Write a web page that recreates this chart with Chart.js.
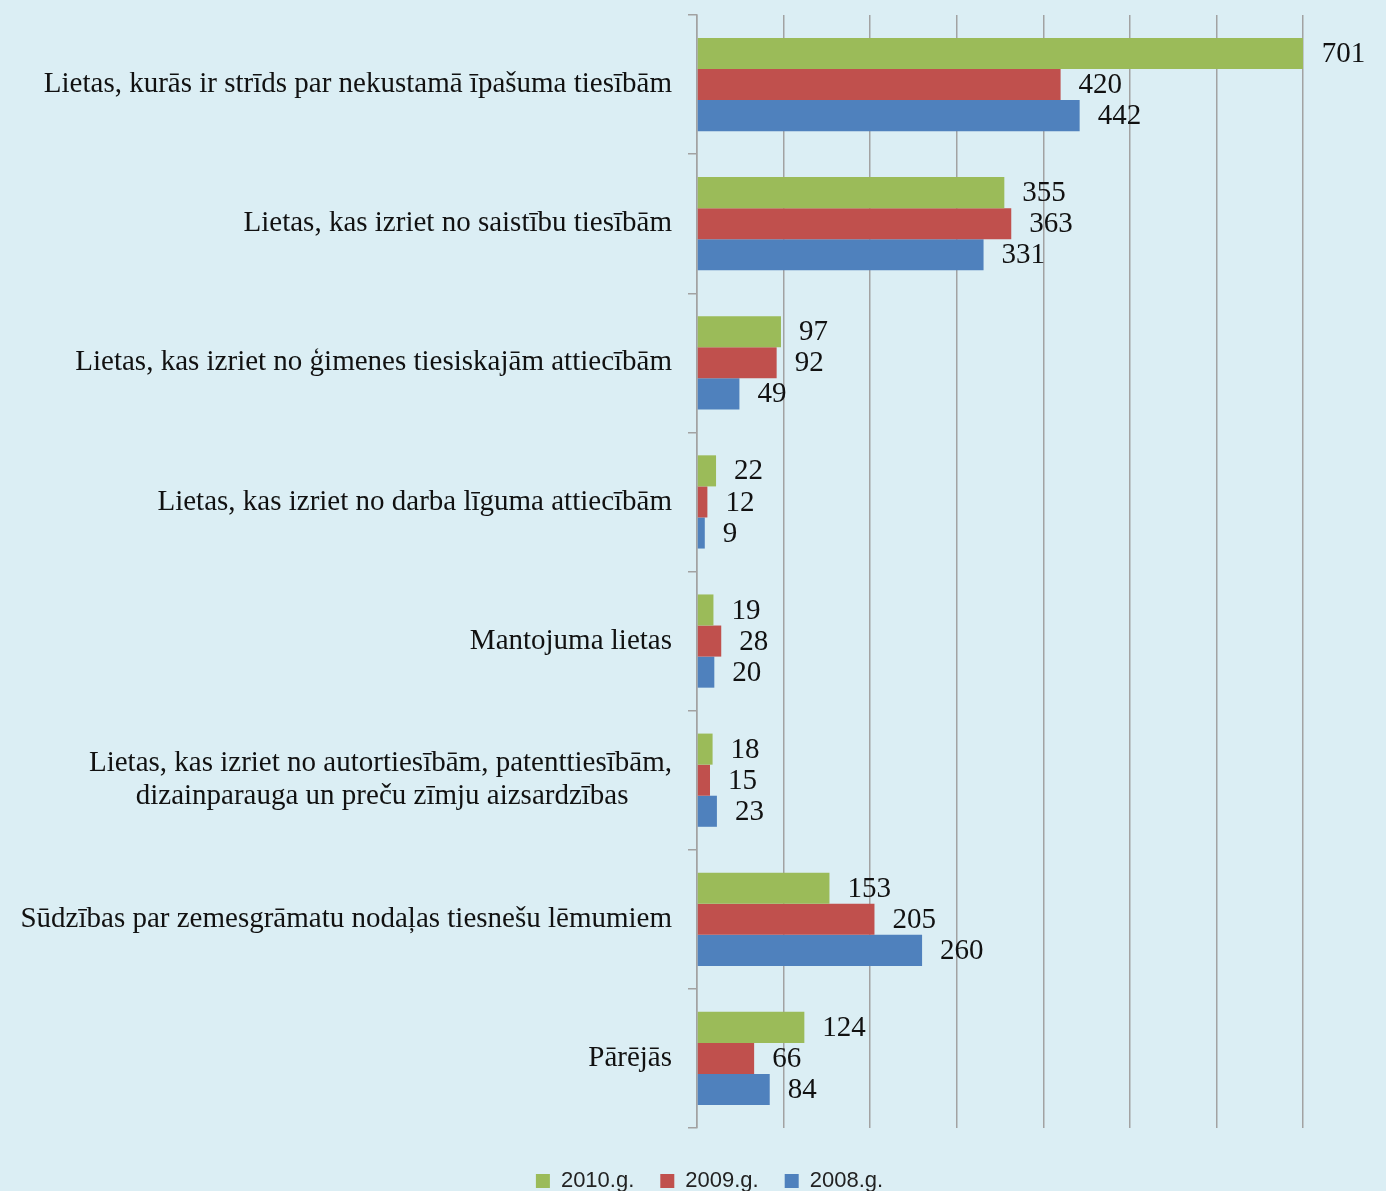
<!DOCTYPE html>
<html>
<head>
<meta charset="utf-8">
<script src="https://cdn.jsdelivr.net/npm/chart.js@4.4.1/dist/chart.umd.min.js"></script>
<style>
  html, body { margin: 0; padding: 0; background: #dbeef4; }
  canvas { display: block; }
</style>
</head>
<body>
<canvas id="myChart" width="1386" height="1191"></canvas>
<script>
// categories (second line of the long one padded so it looks centred)
const categories = [
  'Lietas, kurās ir strīds par nekustamā īpašuma tiesībām',
  'Lietas, kas izriet no saistību tiesībām',
  'Lietas, kas izriet no ģimenes tiesiskajām attiecībām',
  'Lietas, kas izriet no darba līguma attiecībām',
  'Mantojuma lietas',
  ['Lietas, kas izriet no autortiesībām, patenttiesībām,', 'dizainparauga un preču zīmju aizsardzības' + '\u00a0'.repeat(6)],
  'Sūdzības par zemesgrāmatu nodaļas tiesnešu lēmumiem',
  'Pārējās'
];
const seriesNames = ['2010.g.', '2009.g.', '2008.g.'];
const values2010 = [701, 355, 97, 22, 19, 18, 153, 124];
const values2009 = [420, 363, 92, 12, 28, 15, 205, 66];
const values2008 = [442, 331, 49, 9, 20, 23, 260, 84];
const xTicks = [0, 100, 200, 300, 400, 500, 600, 700];

const colors = ['#9bbb59', '#c0504d', '#4f81bd'];

const bgPlugin = {
  id: 'bg',
  beforeDraw(chart) {
    const c = chart.ctx;
    c.save();
    c.fillStyle = '#dbeef4';
    c.fillRect(0, 0, chart.width, chart.height);
    c.restore();
  }
};

// legend in the original sits a bit right of centre
const legendShift = {
  id: 'legendShift',
  afterLayout(chart) {
    chart.legend.left += 58;
    chart.legend.right += 58;
  }
};

// numbers after each bar
const valueLabels = {
  id: 'valueLabels',
  afterDatasetsDraw(chart) {
    const c = chart.ctx;
    c.save();
    c.font = '29px "Liberation Serif", "Times New Roman", serif';
    c.fillStyle = '#111';
    c.textAlign = 'left';
    c.textBaseline = 'middle';
    chart.data.datasets.forEach((ds, i) => {
      chart.getDatasetMeta(i).data.forEach((bar, j) => {
        c.fillText(ds.data[j], bar.x + 18, bar.y + 1);
      });
    });
    c.restore();
  }
};

const ctx = document.getElementById('myChart').getContext('2d');
const myChart = new Chart(ctx, {
  type: 'bar',
  data: {
    labels: categories,
    datasets: [
      { label: seriesNames[0], data: values2010, backgroundColor: colors[0] },
      { label: seriesNames[1], data: values2009, backgroundColor: colors[1] },
      { label: seriesNames[2], data: values2008, backgroundColor: colors[2] }
    ]
  },
  options: {
    indexAxis: 'y',
    responsive: false,
    animation: false,
    categoryPercentage: 0.67,
    barPercentage: 1,
    layout: { padding: { top: 15, right: 83, left: 0, bottom: -11 } },
    scales: {
      x: {
        min: 0,
        max: 700,
        afterBuildTicks(scale) {
          scale.ticks = xTicks.map(v => ({ value: v }));
        },
        afterFit(scale) { scale.height = 16; },
        ticks: { display: false },
        grid: { color: '#a2a2a2', lineWidth: 1.5, drawTicks: false },
        border: { display: false }
      },
      y: {
        afterFit(scale) {
          scale.width = 697;
          scale.paddingTop = 0;
          scale.paddingBottom = 0;
        },
        grid: { drawOnChartArea: false, drawTicks: true, tickLength: 9, color: '#a2a2a2', lineWidth: 1.5 },
        border: { display: true, color: '#a2a2a2', width: 1.5 },
        ticks: {
          padding: 16,
          color: '#111',
          font: { family: '"Liberation Serif", "Times New Roman", serif', size: 29, lineHeight: 1.15 }
        }
      }
    },
    plugins: {
      legend: {
        position: 'bottom',
        labels: {
          boxWidth: 14,
          boxHeight: 14,
          padding: 26,
          color: '#222',
          font: { family: '"Liberation Sans", Arial, sans-serif', size: 22 }
        }
      },
      tooltip: { enabled: false }
    }
  },
  plugins: [bgPlugin, legendShift, valueLabels]
});
</script>
</body>
</html>
